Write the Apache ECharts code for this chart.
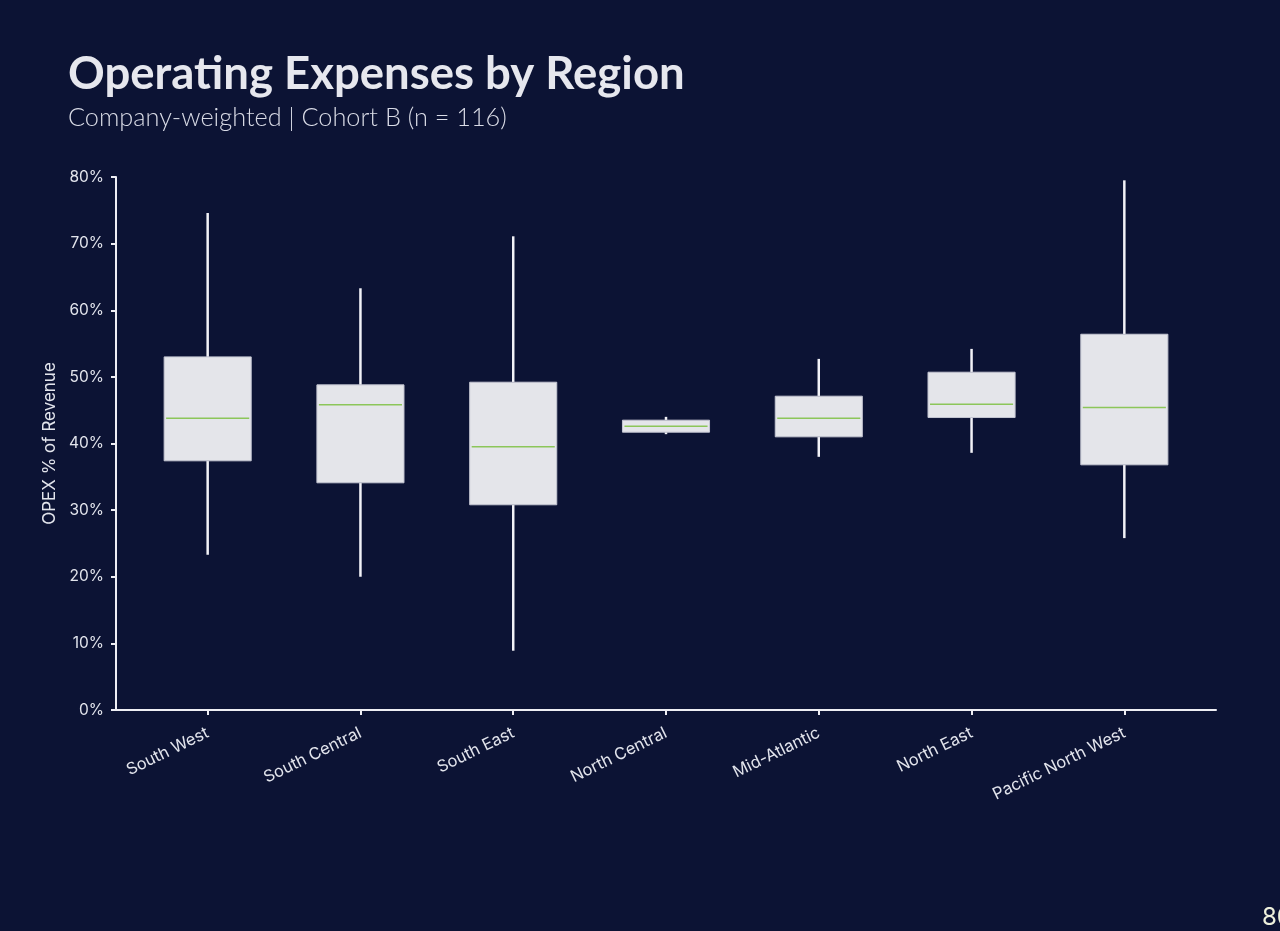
<!DOCTYPE html>
<html>
<head>
<meta charset="utf-8">
<script src="https://cdn.jsdelivr.net/npm/echarts@6/dist/echarts.min.js"></script>
<style>
html,body{margin:0;padding:0;background:#0c1334;}
#chart{width:1280px;height:931px;}
</style>
</head>
<body>
<div id="chart"></div>
<script>
const categories = ['South West','South Central','South East','North Central','Mid-Atlantic','North East','Pacific North West'];
const whiskerMin = [23.3, 20.0, 8.9, 41.4, 38.0, 38.6, 25.8];
const q1Values   = [37.4, 34.1, 30.8, 41.7, 41.0, 43.9, 36.8];
const medians    = [43.8, 45.8, 39.5, 42.6, 43.8, 45.9, 45.4];
const q3Values   = [53.0, 48.8, 49.2, 43.5, 47.1, 50.7, 56.4];
const whiskerMax = [74.6, 63.3, 71.1, 44.0, 52.7, 54.2, 79.5];
const yTicks = [0,10,20,30,40,50,60,70,80];

const seriesData = categories.map((c,i)=>[i, whiskerMin[i], q1Values[i], medians[i], q3Values[i], whiskerMax[i]]);

const chart = echarts.init(document.getElementById('chart'));
chart.setOption({
  backgroundColor:'#0c1334',
  animation:false,
  title:{
    text:'Operating Expenses by Region',
    subtext:'Company-weighted | Cohort B (n = 116)',
    left:63, top:46,
    itemGap:8,
    textStyle:{color:'#e6e7ee', fontFamily:'Lato', fontWeight:'bold', fontSize:45.5},
    subtextStyle:{color:'#d9dbe6', fontFamily:'Lato', fontWeight:300, fontSize:25.3}
  },
  grid:{left:116, right:64, top:177, bottom:221},
  xAxis:{
    type:'value', min:-0.6, max:6.6,
    splitLine:{show:false},
    axisLine:{show:true, onZero:false, lineStyle:{color:'#eeeef4', width:2}},
    axisTick:{show:true, length:5, lineStyle:{color:'#eeeef4', width:2}, customValues:[0,1,2,3,4,5,6]},
    axisLabel:{
      customValues:[0,1,2,3,4,5,6],
      formatter:(v)=>categories[Math.round(v)],
      rotate:26, margin:22,
      color:'#e2e4ec', fontFamily:'Inter', fontSize:16.5
    }
  },
  yAxis:{
    type:'value', min:0, max:80, interval:10,
    name:'OPEX % of Revenue', nameLocation:'middle', nameGap:58,
    nameTextStyle:{color:'#e2e4ec', fontFamily:'Inter', fontSize:17},
    splitLine:{show:false},
    axisLine:{show:true, onZero:false, lineStyle:{color:'#eeeef4', width:2}},
    axisTick:{show:true, length:5, lineStyle:{color:'#eeeef4', width:2}},
    axisLabel:{formatter:'{value}%', color:'#e2e4ec', fontFamily:'Inter', fontSize:15.5, margin:12}
  },
  series:[{
    type:'custom',
    data:seriesData,
    encode:{x:0, y:[1,2,3,4,5]},
    renderItem:function(params, api){
      const x = api.value(0);
      const pMin = api.coord([x, api.value(1)]);
      const pQ1 = api.coord([x, api.value(2)]);
      const pMed = api.coord([x, api.value(3)]);
      const pQ3 = api.coord([x, api.value(4)]);
      const pMax = api.coord([x, api.value(5)]);
      const band = api.size([1,0])[0];
      const half = band*0.285;
      const cx = pMed[0];
      return {type:'group', children:[
        {type:'line', shape:{x1:cx,y1:pMax[1],x2:cx,y2:pQ3[1]}, style:{stroke:'#f2f2f7', lineWidth:2.5}},
        {type:'line', shape:{x1:cx,y1:pQ1[1],x2:cx,y2:pMin[1]}, style:{stroke:'#f2f2f7', lineWidth:2.5}},
        {type:'rect', shape:{x:cx-half, y:pQ3[1], width:half*2, height:pQ1[1]-pQ3[1]}, style:{fill:'#e4e5ea', stroke:'#c4c6d2', lineWidth:1}},
        {type:'line', shape:{x1:cx-half+2,y1:pMed[1],x2:cx+half-2,y2:pMed[1]}, style:{stroke:'#8cc65a', lineWidth:1.5}}
      ]};
    }
  }],
  graphic:[{
    type:'text', left:1262, top:906,
    style:{text:'80', fill:'#eef0dc', font:'24px Inter'}
  }]
});
</script>
</body>
</html>
